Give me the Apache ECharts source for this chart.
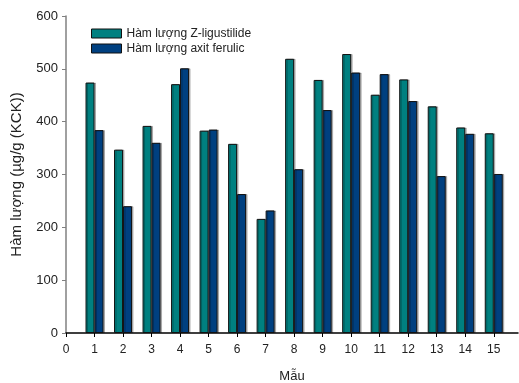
<!DOCTYPE html>
<html>
<head>
<meta charset="utf-8">
<script src="https://cdn.jsdelivr.net/npm/echarts@6/dist/echarts.min.js"></script>
<style>
  html, body { margin: 0; padding: 0; background: #fff; }
  #chart { width: 519px; height: 383px; }
</style>
</head>
<body>
<div id="chart"></div>
<script>
// Sample numbers (Mẫu) and measured contents, µg/g
var samples = [1, 2, 3, 4, 5, 6, 7, 8, 9, 10, 11, 12, 13, 14, 15];
var ligustilide = [474, 347, 392, 471, 383, 358, 216, 519, 479, 528, 451, 480, 429, 389, 378];
var ferulic = [384, 240, 360, 501, 385, 263, 232, 310, 422, 493, 490, 439, 297, 377, 301];
var seriesNames = ['Hàm lượng Z-ligustilide', 'Hàm lượng axit ferulic'];

var font = 'Liberation Sans, Arial, sans-serif';
var chart = echarts.init(document.getElementById('chart'), null, { renderer: 'canvas' });

function pairs(vals) {
  return samples.map(function (s, i) { return [s, vals[i]]; });
}

var barShadow = { shadowColor: 'rgba(0,0,0,0.25)', shadowOffsetX: 1.5, shadowOffsetY: 0, shadowBlur: 0 };

chart.setOption({
  animation: false,
  grid: { left: 66, top: 16, right: 1, bottom: 50, outerBoundsMode: 'none' },
  legend: {
    left: 86, top: 22, orient: 'vertical', itemGap: 2,
    itemWidth: 30, itemHeight: 9, icon: 'rect',
    itemStyle: { borderColor: '#111', borderWidth: 1 },
    textStyle: { fontFamily: font, fontSize: 12, color: '#222', lineHeight: 13 },
    data: seriesNames
  },
  xAxis: {
    type: 'value', min: 0, max: 15.85, interval: 1,
    name: 'Mẫu', nameLocation: 'middle', nameGap: 37,
    nameTextStyle: { fontFamily: font, fontSize: 13, color: '#222' },
    splitLine: { show: false },
    axisLine: { show: true, onZero: false, lineStyle: { color: '#000', width: 1.5 } },
    axisTick: { show: true, length: 4, lineStyle: { color: '#000' } },
    axisLabel: {
      fontFamily: font, fontSize: 12, color: '#222', margin: 11,
      showMaxLabel: false,
      formatter: function (v) { return Number.isInteger(v) ? String(v) : ''; }
    }
  },
  yAxis: {
    type: 'value', min: 0, max: 600, interval: 100,
    name: 'Hàm lượng (µg/g (KCK))', nameLocation: 'middle', nameGap: 42,
    nameTextStyle: { fontFamily: font, fontSize: 15, color: '#222' },
    splitLine: { show: false },
    axisLine: { show: true, lineStyle: { color: '#808080', width: 1.5 } },
    axisTick: { show: true, length: 4, lineStyle: { color: '#808080' } },
    axisLabel: { fontFamily: font, fontSize: 13, color: '#222', margin: 8 }
  },
  series: [
    {
      name: seriesNames[0], type: 'bar', data: pairs(ligustilide),
      barWidth: 9, barGap: '0%',
      itemStyle: Object.assign({ color: '#008080', borderColor: '#111', borderWidth: 1 }, barShadow)
    },
    {
      name: seriesNames[1], type: 'bar', data: pairs(ferulic),
      barWidth: 9, barGap: '0%',
      itemStyle: Object.assign({ color: '#004080', borderColor: '#111', borderWidth: 1 }, barShadow)
    }
  ]
});
</script>
</body>
</html>
